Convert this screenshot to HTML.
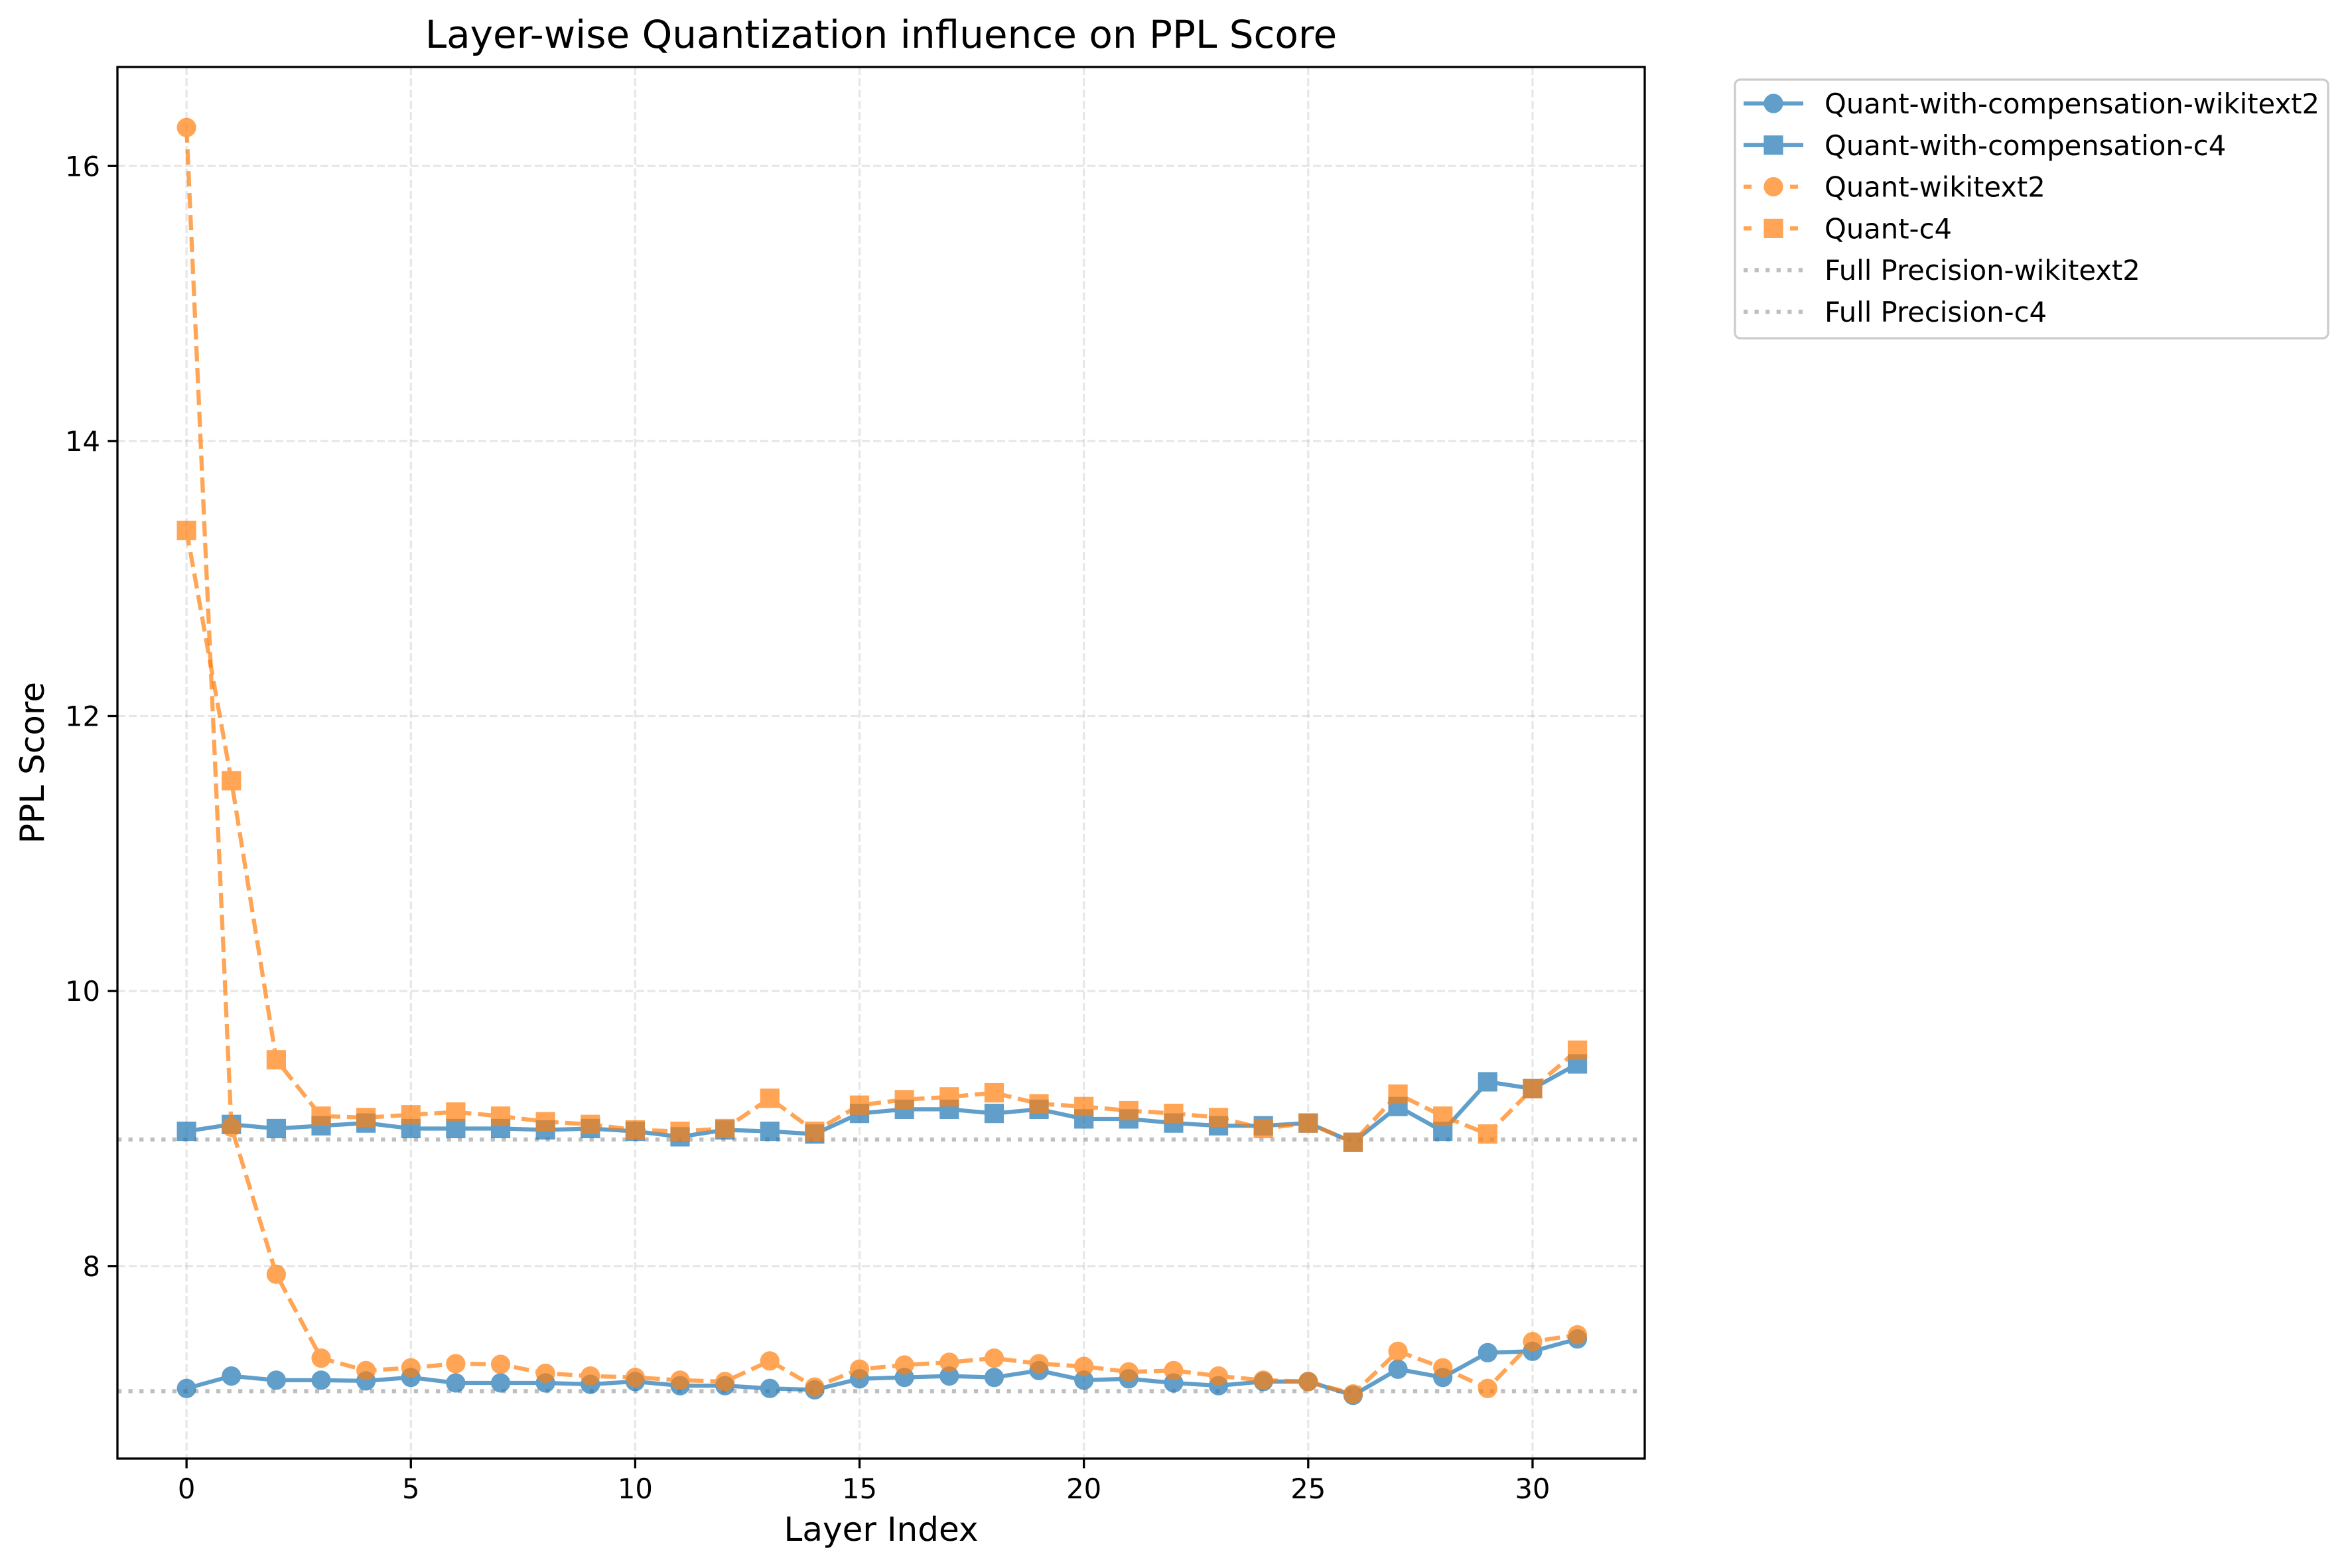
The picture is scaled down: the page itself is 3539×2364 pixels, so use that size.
<!DOCTYPE html>
<html><head><meta charset="utf-8"><style>
html,body{margin:0;padding:0;background:#fff;}
svg{display:block;font-family:"DejaVu Sans","Liberation Sans",sans-serif;}
</style></head><body>
<svg id="chart" width="3539" height="2364" viewBox="0 0 3539 2364" xmlns="http://www.w3.org/2000/svg">
<rect width="3539" height="2364" fill="#fff"/>
<text x="1328" y="72" font-size="58" text-anchor="middle" fill="#000">Layer-wise Quantization influence on PPL Score</text>
<g id="grid"></g><g id="series"></g><g id="axes"></g>
<text x="1328" y="2323" font-size="50" text-anchor="middle">Layer Index</text>
<text x="0" y="0" font-size="50" text-anchor="middle" transform="translate(66,1150) rotate(-90)">PPL Score</text>
<g id="legend"></g>
</svg>
<script>
const layers = Array.from({length:32},(_, i)=>i);
const compWiki = [7.11,7.20,7.17,7.17,7.165,7.19,7.15,7.15,7.15,7.14,7.16,7.13,7.13,7.11,7.10,7.18,7.19,7.20,7.19,7.24,7.17,7.18,7.15,7.13,7.16,7.16,7.06,7.25,7.19,7.37,7.38,7.47];
const compC4 = [8.98,9.03,9.00,9.02,9.04,9.00,9.00,9.00,8.99,9.00,8.98,8.94,8.99,8.98,8.96,9.11,9.14,9.14,9.11,9.14,9.07,9.07,9.04,9.02,9.02,9.04,8.90,9.16,8.98,9.34,9.29,9.47];
const quantWiki = [16.28,9.01,7.94,7.33,7.24,7.26,7.29,7.285,7.22,7.20,7.19,7.17,7.16,7.31,7.12,7.25,7.28,7.30,7.33,7.29,7.27,7.23,7.24,7.20,7.17,7.16,7.07,7.38,7.26,7.11,7.45,7.50];
const quantC4 = [13.35,11.53,9.50,9.09,9.08,9.10,9.12,9.09,9.05,9.03,8.99,8.98,9.00,9.22,8.98,9.17,9.21,9.23,9.26,9.18,9.16,9.13,9.11,9.08,9.00,9.04,8.90,9.25,9.09,8.96,9.29,9.57];
const fullWiki = 7.09;
const fullC4 = 8.92;
const xTicks = [0,5,10,15,20,25,30];
const yTicks = [8,10,12,14,16];

const L=177,R=2479,T=101,B=2199;
const X0=-1.54,X1=32.5,Y0=6.60,Y1=16.72;
const sx=v=>L+(v-X0)/(X1-X0)*(R-L);
const sy=v=>B-(v-Y0)/(Y1-Y0)*(B-T);
const NS="http://www.w3.org/2000/svg";
function mk(tag,attrs,parent){const e=document.createElementNS(NS,tag);for(const k in attrs)e.setAttribute(k,attrs[k]);parent.appendChild(e);return e;}
const grid=document.getElementById('grid'),axes=document.getElementById('axes'),ser=document.getElementById('series'),leg=document.getElementById('legend');

xTicks.forEach(t=>{
  const g=mk('line',{x1:sx(t),x2:sx(t),y1:T,y2:B,stroke:'#b0b0b0','stroke-opacity':0.3,'stroke-width':3.3,'stroke-dasharray':'12,5'},grid);
  
  
  const tk=mk('line',{x1:sx(t),x2:sx(t),y1:B,y2:B+14.6,stroke:'#000','stroke-width':3.3},axes);
  
  
  const tl=mk('text',{x:sx(t),y:B+60,'font-size':41.7,'text-anchor':'middle'},axes);
  tl.textContent=t;
  
  
});
yTicks.forEach(t=>{
  const g=mk('line',{x1:L,x2:R,y1:sy(t),y2:sy(t),stroke:'#b0b0b0','stroke-opacity':0.3,'stroke-width':3.3,'stroke-dasharray':'12,5'},grid);
  
  
  const tk=mk('line',{x1:L-14.6,x2:L,y1:sy(t),y2:sy(t),stroke:'#000','stroke-width':3.3},axes);
  
  
  const tl=mk('text',{x:L-26,y:sy(t)+15,'font-size':41.7,'text-anchor':'end'},axes);
  tl.textContent=t;
  
  
});
const frame=mk('rect',{x:L,y:T,width:R-L,height:B-T,fill:'none',stroke:'#000','stroke-width':3.3},axes);



[[fullWiki,'full-precision-wikitext2-line'],[fullC4,'full-precision-c4-line']].forEach(([v,n])=>{
  const l=mk('line',{x1:L,x2:R,y1:sy(v),y2:sy(v),stroke:'#808080','stroke-opacity':0.5,'stroke-width':6.25,'stroke-dasharray':'6.25,10.3'},ser);
  
  
});

const BLUE='#1f77b4',ORANGE='#ff7f0e';
const seriesDefs=[
 {vals:compWiki,color:BLUE,dash:null,marker:'circle',name:'quant-with-compensation-wikitext2'},
 {vals:compC4,color:BLUE,dash:null,marker:'square',name:'quant-with-compensation-c4'},
 {vals:quantWiki,color:ORANGE,dash:'23,10',marker:'circle',name:'quant-wikitext2'},
 {vals:quantC4,color:ORANGE,dash:'23,10',marker:'square',name:'quant-c4'}
];
function marker(parent,type,x,y,color){
  let m;
  if(type==='circle') m=mk('circle',{cx:x,cy:y,r:12.5,fill:color,stroke:color,'stroke-width':4.2},parent);
  else m=mk('rect',{x:x-12.5,y:y-12.5,width:25,height:25,fill:color,stroke:color,'stroke-width':4.2},parent);
  return m;
}
seriesDefs.forEach(s=>{
  const g=mk('g',{opacity:0.7},ser);
  
  
  const pts=s.vals.map((v,i)=>sx(layers[i])+','+sy(v)).join(' ');
  const pl=mk('polyline',{points:pts,fill:'none',stroke:s.color,'stroke-width':6.25,'stroke-linejoin':'round'},g);
  if(s.dash)pl.setAttribute('stroke-dasharray',s.dash);
  
  
  s.vals.forEach((v,i)=>{
    const m=marker(g,s.marker,sx(layers[i]),sy(v),s.color);
    
    
  });
});

// legend
const lb=mk('rect',{x:2615,y:120,width:894,height:390,rx:8,fill:'#fff','fill-opacity':0.8,stroke:'#cccccc','stroke-width':3.3},leg);


const legItems=[
 ['Quant-with-compensation-wikitext2',BLUE,null,'circle'],
 ['Quant-with-compensation-c4',BLUE,null,'square'],
 ['Quant-wikitext2',ORANGE,'23,10','circle'],
 ['Quant-c4',ORANGE,'23,10','square'],
 ['Full Precision-wikitext2','#808080','6.25,10.3',null],
 ['Full Precision-c4','#808080','6.25,10.3',null]
];
legItems.forEach((it,i)=>{
  const y=156+i*62.8;
  const g=mk('g',{},leg);
  
  
  const h=mk('g',{opacity:it[3]?0.7:0.5},g);
  const ln=mk('line',{x1:2628,x2:2718,y1:y,y2:y,stroke:it[1],'stroke-width':6.25},h);
  if(it[2])ln.setAttribute('stroke-dasharray',it[2]==='23,10'?'12,23':'6.25,10.3');
  if(it[2]==='23,10'){ln.setAttribute('stroke-dashoffset','-0');}
  if(it[3])marker(h,it[3],2673,y,it[1]);
  const t=mk('text',{x:2750,y:y+15,'font-size':41.7},g);
  t.textContent=it[0];
});
</script>
</body></html>
